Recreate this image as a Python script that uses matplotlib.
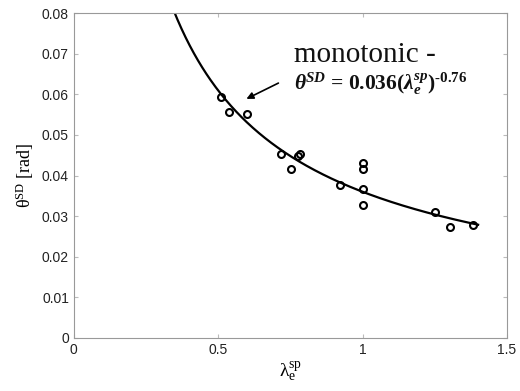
import numpy as np
import matplotlib
matplotlib.use("Agg")
import matplotlib.pyplot as plt

# measured points (lambda_e^sp, theta^SD)
lam = [0.508, 0.539, 0.600, 0.719, 0.751, 0.776, 0.783, 0.920,
       1.000, 1.000, 1.000, 1.000, 1.251, 1.302, 1.383]
theta = [0.0594, 0.0556, 0.0551, 0.0453, 0.0416, 0.0448, 0.0453, 0.0376,
         0.0432, 0.0416, 0.0366, 0.0327, 0.0309, 0.0273, 0.0277]

# monotonic fit from the annotation
fit_a = 0.036
fit_b = -0.76
fit_range = (0.33, 1.40)

xticks = [0, 0.5, 1, 1.5]
yticks = [0, 0.01, 0.02, 0.03, 0.04, 0.05, 0.06, 0.07, 0.08]

plt.rcParams["mathtext.fontset"] = "custom"
plt.rcParams["mathtext.rm"] = "Liberation Serif"
plt.rcParams["mathtext.it"] = "Liberation Serif:italic"
plt.rcParams["mathtext.bf"] = "Liberation Serif:bold"
plt.rcParams["mathtext.bfit"] = "Liberation Serif:italic:bold"

fig = plt.figure(figsize=(5.20, 3.91), dpi=100)
ax = fig.add_axes([0.142, 0.136, 0.833, 0.830])

xf = np.linspace(fit_range[0], fit_range[1], 300)
ax.plot(xf, fit_a * xf ** fit_b, color="black", lw=1.6, zorder=2)
ax.plot(lam, theta, "o", mfc="none", mec="black", ms=5, mew=1.5, zorder=3)

ax.set_xlim(0, 1.5)
ax.set_ylim(0, 0.08)
ax.set_xticks(xticks)
ax.set_xticklabels(["0", "0.5", "1", "1.5"])
ax.set_yticks(yticks)
ax.set_yticklabels(["0", "0.01", "0.02", "0.03", "0.04", "0.05", "0.06", "0.07", "0.08"])

for s in ax.spines.values():
    s.set_color("#999999")
    s.set_linewidth(0.8)
ax.tick_params(direction="in", length=3, color="#bbbbbb", labelsize=10,
               labelcolor="#222222", top=True, right=True)
for lb in ax.get_xticklabels() + ax.get_yticklabels():
    lb.set_fontname("Liberation Sans")

ax.set_xlabel(r"$\mathrm{\lambda}_{\mathrm{e}}^{\mathrm{sp}}$", fontsize=14, labelpad=3)
ax.set_ylabel(r"$\mathrm{\theta}^{\mathrm{SD}}$ [rad]", fontsize=13,
              fontname="Liberation Serif", labelpad=4)

ax.text(0.762, 0.068, "monotonic -", fontsize=21, fontname="Liberation Serif",
        color="#111111")
ax.text(0.762, 0.0612,
        r"$\mathbfit{\theta}^{\mathbfit{SD}}$ = 0.036($\mathbfit{\lambda}_{\mathbfit{e}}^{\mathbfit{sp}}$)$^{\mathbf{\text{-}0.76}}$",
        fontsize=15.5, fontname="Liberation Serif", fontweight="bold", color="#111111")
ax.annotate("", xy=(0.589, 0.0586), xytext=(0.717, 0.0631),
            arrowprops=dict(arrowstyle="-|>", color="black", lw=1.2,
                            mutation_scale=10))

fig.savefig("out.png", dpi=100)
